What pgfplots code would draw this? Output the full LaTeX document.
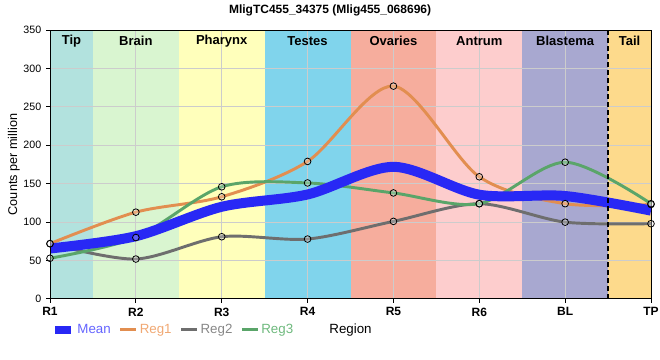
\documentclass[border=0pt]{standalone}
\usepackage{pgfplots}
\pgfplotsset{compat=1.18}
\usepackage{pgfplotstable}
\usepackage{fontspec}
\setmainfont{Liberation Sans}
\definecolor{cTip}{RGB}{178,226,222}
\definecolor{cBrain}{RGB}{217,245,208}
\definecolor{cPhar}{RGB}{255,255,187}
\definecolor{cTest}{RGB}{128,212,236}
\definecolor{cOva}{RGB}{246,173,157}
\definecolor{cAnt}{RGB}{253,205,205}
\definecolor{cBla}{RGB}{168,168,208}
\definecolor{cTail}{RGB}{253,218,140}
\definecolor{cMean}{RGB}{40,40,245}
\definecolor{cReg1}{RGB}{226,142,80}
\definecolor{cReg2}{RGB}{110,110,110}
\definecolor{cReg3}{RGB}{90,165,105}
\definecolor{tMean}{RGB}{100,100,255}
\definecolor{tReg1}{RGB}{240,168,115}
\definecolor{tReg2}{RGB}{135,135,135}
\definecolor{tReg3}{RGB}{110,185,125}
\pgfplotstableread{
x reg1 reg2 reg3 mean
0 72 72 53 65.7
1 113 52 80 81.7
2 133 81 146 120
3 179 78 151 136
4 277 101 138 172
5 159 124 124 135.7
6 124 100 178 134
7 123 98 124 115
}\data
\begin{document}
\begin{tikzpicture}
\begin{axis}[
  set layers,
  scale only axis,
  width=450.75pt, height=201.75pt,
  xmin=0, xmax=7, ymin=0, ymax=350,
  xtick={0,...,7},
  xticklabels={R1,R2,R3,R4,R5,R6,BL,TP},
  ytick={0,50,...,350},
  grid=major,
  major grid style={draw=black!20, line width=0.75pt},
  tick align=outside,
  xtick pos=left, ytick pos=left,
  major tick length=3pt,
  tick style={black, line width=0.75pt},
  axis line style={line width=0.75pt},
  /pgf/number format/assume math mode=true,
  yticklabel style={font=\fontsize{8}{9}\selectfont},
  xticklabel style={font=\bfseries\fontsize{9}{10}\selectfont},
  every axis title shift=0pt,
  title={\bfseries MligTC455\_34375 (Mlig455\_068696)},
  title style={font=\fontsize{9}{10}\selectfont, at={(axis description cs:0.466,1.074)}, anchor=center},
  xlabel={Region},
  xlabel style={font=\fontsize{10}{11}\selectfont, at={(axis description cs:0.5,-0.115)}, anchor=center},
  ylabel={Counts per million},
  ylabel style={font=\fontsize{9.5}{11}\selectfont, at={(axis description cs:-0.06,0.5)}, anchor=center},
  legend columns=-1,
  legend style={draw=none, fill=none, at={(axis description cs:0.002,-0.115)}, anchor=west,
    font=\fontsize{10}{12}\selectfont, inner sep=0pt, nodes={inner xsep=1.5pt},
    /tikz/every even column/.append style={column sep=4.5pt}},
  legend image code/.code={\draw[#1] (0pt,0pt) -- (12pt,0pt);},
]
% background bands
\addplot[fill=cTip, draw=none, on layer=axis background, forget plot] coordinates {(0,0) (0.5,0) (0.5,350) (0,350)} -- cycle;
\addplot[fill=cBrain, draw=none, on layer=axis background, forget plot] coordinates {(0.5,0) (1.5,0) (1.5,350) (0.5,350)} -- cycle;
\addplot[fill=cPhar, draw=none, on layer=axis background, forget plot] coordinates {(1.5,0) (2.5,0) (2.5,350) (1.5,350)} -- cycle;
\addplot[fill=cTest, draw=none, on layer=axis background, forget plot] coordinates {(2.5,0) (3.5,0) (3.5,350) (2.5,350)} -- cycle;
\addplot[fill=cOva, draw=none, on layer=axis background, forget plot] coordinates {(3.5,0) (4.5,0) (4.5,350) (3.5,350)} -- cycle;
\addplot[fill=cAnt, draw=none, on layer=axis background, forget plot] coordinates {(4.5,0) (5.5,0) (5.5,350) (4.5,350)} -- cycle;
\addplot[fill=cBla, draw=none, on layer=axis background, forget plot] coordinates {(5.5,0) (6.5,0) (6.5,350) (5.5,350)} -- cycle;
\addplot[fill=cTail, draw=none, on layer=axis background, forget plot] coordinates {(6.5,0) (7,0) (7,350) (6.5,350)} -- cycle;
% series
\addplot[cReg1, line width=2.2pt, smooth, forget plot] table[x=x, y=reg1] {\data};
\addplot[cReg2, line width=2.2pt, smooth, forget plot] table[x=x, y=reg2] {\data};
\addplot[cReg3, line width=2.2pt, smooth, forget plot] table[x=x, y=reg3] {\data};
\addplot[cMean, line width=7.5pt, smooth, forget plot] table[x=x, y=mean] {\data};
% markers
\addplot[only marks, mark=*, mark size=2.5pt, mark options={draw=black, line width=0.6pt, fill=white, fill opacity=0.25}, forget plot] table[x=x, y=reg1] {\data};
\addplot[only marks, mark=*, mark size=2.5pt, mark options={draw=black, line width=0.6pt, fill=white, fill opacity=0.25}, forget plot] table[x=x, y=reg2] {\data};
\addplot[only marks, mark=*, mark size=2.5pt, mark options={draw=black, line width=0.6pt, fill=white, fill opacity=0.25}, forget plot] table[x=x, y=reg3] {\data};
% dashed separator
\addplot[black, line width=1.6pt, dash pattern=on 3.5pt off 2.5pt, forget plot] coordinates {(6.5,0) (6.5,350)};
% legend
\addlegendimage{cMean, line width=6pt}
\addlegendentry{\textcolor{tMean}{Mean}}
\addlegendimage{cReg1, line width=2.2pt}
\addlegendentry{\textcolor{tReg1}{Reg1}}
\addlegendimage{cReg2, line width=2.2pt}
\addlegendentry{\textcolor{tReg2}{Reg2}}
\addlegendimage{cReg3, line width=2.2pt}
\addlegendentry{\textcolor{tReg3}{Reg3}}
% region labels
\node[font=\bfseries\fontsize{9.75}{11}\selectfont] at (axis cs:0.25,336) {Tip};
\node[font=\bfseries\fontsize{9.75}{11}\selectfont] at (axis cs:1,336) {Brain};
\node[font=\bfseries\fontsize{9.75}{11}\selectfont] at (axis cs:2,336) {Pharynx};
\node[font=\bfseries\fontsize{9.75}{11}\selectfont] at (axis cs:3,336) {Testes};
\node[font=\bfseries\fontsize{9.75}{11}\selectfont] at (axis cs:4,336) {Ovaries};
\node[font=\bfseries\fontsize{9.75}{11}\selectfont] at (axis cs:5,336) {Antrum};
\node[font=\bfseries\fontsize{9.75}{11}\selectfont] at (axis cs:6,336) {Blastema};
\node[font=\bfseries\fontsize{9.75}{11}\selectfont] at (axis cs:6.75,336) {Tail};
\draw[black, line width=1.8pt] (rel axis cs:0,1) -- (rel axis cs:0,0) -- (rel axis cs:1,0);
\end{axis}
\pgfresetboundingbox
\useasboundingbox (-37.5pt,-45.75pt) rectangle (457.5pt,224.25pt);
\end{tikzpicture}
\end{document}
